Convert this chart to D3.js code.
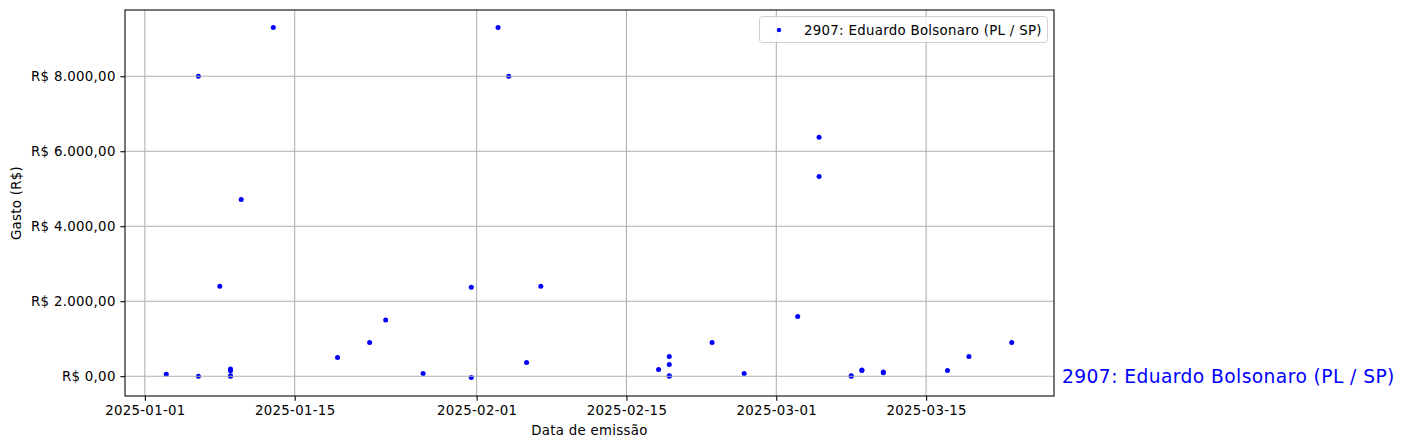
<!DOCTYPE html>
<html>
<head>
<meta charset="utf-8">
<script src="https://cdn.jsdelivr.net/npm/d3@7"></script>
<style>
  html, body { margin: 0; padding: 0; background: #fff; }
  svg { display: block; font-family: "DejaVu Sans", sans-serif; }
</style>
</head>
<body>
<svg id="chart" width="1404" height="448"></svg>
<script>
// ---- data ----
const seriesName = "2907: Eduardo Bolsonaro (PL / SP)";
const dates = [
  "2025-01-03", "2025-01-06", "2025-01-06", "2025-01-08",
  "2025-01-09", "2025-01-09", "2025-01-09", "2025-01-09",
  "2025-01-10", "2025-01-13", "2025-01-19", "2025-01-22",
  "2025-01-23T12:00", "2025-01-27", "2025-01-31T12:00", "2025-01-31T12:00",
  "2025-02-03", "2025-02-04", "2025-02-05T16:00", "2025-02-07",
  "2025-02-18", "2025-02-19", "2025-02-19", "2025-02-19", "2025-02-19",
  "2025-02-23", "2025-02-26", "2025-03-03", "2025-03-05", "2025-03-05",
  "2025-03-08", "2025-03-08", "2025-03-09", "2025-03-09",
  "2025-03-11", "2025-03-11", "2025-03-17", "2025-03-19", "2025-03-23"
];
const values = [
  53, 8000, 0, 2400,
  190, 145, 10, 0,
  4710, 9300, 500, 900,
  1500, 72, 2370, -35,
  9300, 8000, 365, 2400,
  179, 525, 312, 15, 0,
  900, 72, 1590, 6370, 5325,
  0, 12, 168, 150,
  115, 95, 152, 525, 900
];
const xTickDates = ["2025-01-01", "2025-01-15", "2025-02-01", "2025-02-15", "2025-03-01", "2025-03-15"];
const yTickValues = [0, 2000, 4000, 6000, 8000];
const xLabel = "Data de emissão";
const yLabel = "Gasto (R$)";

// ---- layout ----
const L = 125, R = 1054, T = 10, B = 396;
const svg = d3.select("#chart");
const parse = s => new Date(s.length > 10 ? s + ":00Z" : s + "T00:00:00Z");
const pts = dates.map((d, i) => ({ date: parse(d), value: values[i] }));

const xExt = d3.extent(pts, d => +d.date);
const xPad = (xExt[1] - xExt[0]) * 0.05;
const x = d3.scaleUtc().domain([new Date(xExt[0] - xPad), new Date(xExt[1] + xPad)]).range([L - 1, R]);
const yExt = d3.extent(pts, d => d.value);
const yPad = (yExt[1] - yExt[0]) * 0.05;
const y = d3.scaleLinear().domain([yExt[0] - yPad, yExt[1] + yPad]).range([B - 1, T]);

const br = d3.formatLocale({ decimal: ",", thousands: ".", grouping: [3], currency: ["R$ ", ""] });
const fmtY = br.format("$,.2f");
const fmtX = d3.utcFormat("%Y-%m-%d");
const xTicks = xTickDates.map(parse);
const LS = "0.3px";

// points (drawn below grid, like matplotlib)
svg.append("g").selectAll("circle").data(pts).join("circle")
  .attr("cx", d => x(d.date)).attr("cy", d => y(d.value))
  .attr("r", 2.5).attr("fill", "#0000ff");

// grid
const grid = svg.append("g").attr("stroke", "#b0b0b0").attr("stroke-width", 1.07);
grid.selectAll(".gx").data(xTicks).join("line")
  .attr("x1", d => x(d)).attr("x2", d => x(d)).attr("y1", T).attr("y2", B);
grid.selectAll(".gy").data(yTickValues).join("line")
  .attr("x1", L).attr("x2", R).attr("y1", d => y(d)).attr("y2", d => y(d));

// axes
const xAxis = svg.append("g").attr("transform", `translate(0,${B})`)
  .call(d3.axisBottom(x).tickValues(xTicks).tickFormat(fmtX).tickSizeInner(4.67).tickSizeOuter(0).tickPadding(4.67));
const yAxis = svg.append("g").attr("transform", `translate(${L},0)`)
  .call(d3.axisLeft(y).tickValues(yTickValues).tickFormat(fmtY).tickSizeInner(4.67).tickSizeOuter(0).tickPadding(4.67));
[xAxis, yAxis].forEach(g => {
  g.select(".domain").remove();
  g.selectAll("line").attr("stroke", "#000").attr("stroke-width", 1.07);
  g.selectAll("text").attr("font-family", "DejaVu Sans").attr("font-size", 13.33)
    .attr("letter-spacing", LS).attr("fill", "#000");
});

// frame
svg.append("rect").attr("x", L).attr("y", T).attr("width", R - L).attr("height", B - T)
  .attr("fill", "none").attr("stroke", "#000").attr("stroke-width", 1.07);

// axis labels
svg.append("text").attr("x", (L + R) / 2).attr("y", 435).attr("text-anchor", "middle")
  .attr("font-size", 13.33).attr("letter-spacing", LS).text(xLabel);
svg.append("text").attr("transform", `translate(21,${(T + B) / 2}) rotate(-90)`)
  .attr("text-anchor", "middle").attr("font-size", 13.33).attr("letter-spacing", LS).text(yLabel);

// legend
const lg = svg.append("g");
lg.append("rect").attr("x", 759.5).attr("y", 16.5).attr("width", 288).attr("height", 26).attr("rx", 3)
  .attr("fill", "#fff").attr("fill-opacity", 0.8).attr("stroke", "#d0d0d0").attr("stroke-width", 1);
lg.append("circle").attr("cx", 779).attr("cy", 30).attr("r", 2.2).attr("fill", "#0000ff");
lg.append("text").attr("x", 804).attr("y", 34.5).attr("font-size", 13.33).attr("letter-spacing", LS).text(seriesName);

// side annotation
svg.append("text").attr("x", R + 8).attr("y", y(0)).attr("dy", "0.35em")
  .attr("font-size", 18.67).attr("letter-spacing", "0.42px").attr("fill", "#0000ff").text(seriesName);
</script>
</body>
</html>
